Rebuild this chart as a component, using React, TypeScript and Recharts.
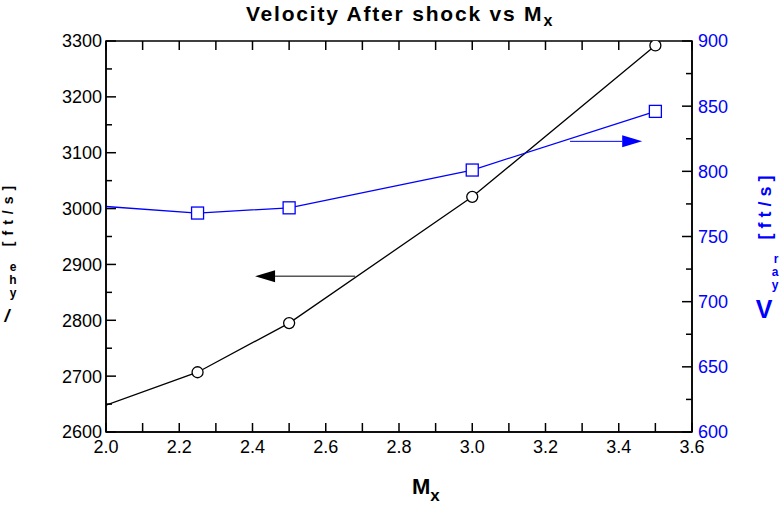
import React from "react";
import { LineChart, Line, XAxis, YAxis, ReferenceLine, ReferenceArea } from "recharts";

const mx = [2.0, 2.25, 2.5, 3.0, 3.5];
const velocityX = [2648, 2707, 2795, 3021, 3292];
const velocityY = [773, 768, 772, 801, 846];

const xTicks = [2.0, 2.2, 2.4, 2.6, 2.8, 3.0, 3.2, 3.4, 3.6];
const xMinorTicks = [2.1, 2.3, 2.5, 2.7, 2.9, 3.1, 3.3, 3.5];
const leftTicks = [2600, 2700, 2800, 2900, 3000, 3100, 3200, 3300];
const leftMinorTicks = [2650, 2750, 2850, 2950, 3050, 3150, 3250];
const rightTicks = [600, 650, 700, 750, 800, 850, 900];
const rightMinorTicks = [625, 675, 725, 775, 825, 875];

const FONT = "'Liberation Sans', Arial, sans-serif";
const BLUE = "#0000ff";

const data = mx.map((m, i) => ({ mx: m, vx: velocityX[i], vy: velocityY[i] }));

// short inward tick marks drawn from a full reference line
const xTickShape = (len: number) => (p: any) => {
  const top = Math.min(p.y1, p.y2);
  const bot = Math.max(p.y1, p.y2);
  return (
    <g>
      <line x1={p.x1} x2={p.x1} y1={bot} y2={bot - len} stroke="#000" strokeWidth={1.5} />
      <line x1={p.x1} x2={p.x1} y1={top} y2={top + len} stroke="#000" strokeWidth={1.5} />
    </g>
  );
};

const yTickShape = (len: number, side: "left" | "right") => (p: any) => {
  const x = side === "left" ? Math.min(p.x1, p.x2) : Math.max(p.x1, p.x2);
  const dir = side === "left" ? 1 : -1;
  return <line x1={x} x2={x + dir * len} y1={p.y1} y2={p.y1} stroke="#000" strokeWidth={1.5} />;
};

const arrowShape = (color: string) => (p: any) => {
  const dir = p.x2 > p.x1 ? 1 : -1;
  const head = 20;
  const bx = p.x2 - dir * head;
  return (
    <g>
      <line x1={p.x1} y1={p.y1} x2={bx} y2={p.y2} stroke={color} strokeWidth={1} />
      <polygon points={`${p.x2},${p.y2} ${bx},${p.y2 - 6} ${bx},${p.y2 + 6}`} fill={color} />
    </g>
  );
};

const CircleDot = (props: any) => {
  const { cx, cy, index } = props;
  if (index === 0) return <g key={`c-${index}`} />;
  return <circle key={`c-${index}`} cx={cx} cy={cy} r={5.5} fill="#fff" stroke="#000" strokeWidth={1.3} />;
};

const SquareDot = (props: any) => {
  const { cx, cy, index } = props;
  if (index === 0) return <g key={`s-${index}`} />;
  return (
    <rect key={`s-${index}`} x={cx - 6} y={cy - 6} width={12} height={12} fill="#fff" stroke={BLUE} strokeWidth={1.3} />
  );
};

export default function App() {
  return (
    <div style={{ position: "absolute", left: 0, top: 0, width: 780, height: 510, background: "#fff" }}>
      <LineChart
        width={780}
        height={510}
        data={data}
        margin={{ top: 41, right: 28, bottom: 38, left: 46 }}
      >
        <XAxis
          dataKey="mx"
          type="number"
          domain={[2, 3.6]}
          ticks={xTicks}
          allowDataOverflow
          tickFormatter={(v: number) => v.toFixed(1)}
          tickLine={false}
          tickSize={0}
          tickMargin={8}
          height={40}
          axisLine={{ stroke: "#000", strokeWidth: 1.5 }}
          tick={{ fill: "#000", fontSize: 18, fontFamily: FONT }}
        />
        <YAxis
          yAxisId="left"
          domain={[2600, 3300]}
          ticks={leftTicks}
          allowDataOverflow
          tickLine={false}
          tickSize={0}
          tickMargin={4}
          width={60}
          axisLine={{ stroke: "#000", strokeWidth: 1.5 }}
          tick={{ fill: "#000", fontSize: 18, fontFamily: FONT }}
        />
        <YAxis
          yAxisId="right"
          orientation="right"
          domain={[600, 900]}
          ticks={rightTicks}
          allowDataOverflow
          tickLine={false}
          tickSize={0}
          tickMargin={6}
          width={60}
          axisLine={{ stroke: "#000", strokeWidth: 1.5 }}
          tick={{ fill: BLUE, fontSize: 18, fontFamily: FONT, textAnchor: "start" }}
        />
        <ReferenceArea
          yAxisId="left"
          x1={2}
          x2={3.6}
          y1={2600}
          y2={3300}
          fill="none"
          stroke="#000"
          strokeWidth={1.5}
          fillOpacity={0}
        />
        {xTicks.map((v) => (
          <ReferenceLine key={`xt-${v}`} yAxisId="left" x={v} shape={xTickShape(9)} />
        ))}
        {xMinorTicks.map((v) => (
          <ReferenceLine key={`xm-${v}`} yAxisId="left" x={v} shape={xTickShape(9)} />
        ))}
        {leftTicks.map((v) => (
          <ReferenceLine key={`lt-${v}`} yAxisId="left" y={v} shape={yTickShape(10, "left")} />
        ))}
        {leftMinorTicks.map((v) => (
          <ReferenceLine key={`lm-${v}`} yAxisId="left" y={v} shape={yTickShape(6, "left")} />
        ))}
        {rightTicks.map((v) => (
          <ReferenceLine key={`rt-${v}`} yAxisId="right" y={v} shape={yTickShape(10, "right")} />
        ))}
        {rightMinorTicks.map((v) => (
          <ReferenceLine key={`rm-${v}`} yAxisId="right" y={v} shape={yTickShape(6, "right")} />
        ))}
        <ReferenceLine
          yAxisId="left"
          segment={[
            { x: 2.68, y: 2879 },
            { x: 2.407, y: 2879 },
          ]}
          shape={arrowShape("#000")}
        />
        <ReferenceLine
          yAxisId="right"
          segment={[
            { x: 3.267, y: 823 },
            { x: 3.464, y: 823 },
          ]}
          shape={arrowShape(BLUE)}
        />
        <Line
          yAxisId="left"
          dataKey="vx"
          stroke="#000"
          strokeWidth={1.3}
          dot={CircleDot}
          activeDot={false}
          isAnimationActive={false}
        />
        <Line
          yAxisId="right"
          dataKey="vy"
          stroke={BLUE}
          strokeWidth={1.3}
          dot={SquareDot}
          activeDot={false}
          isAnimationActive={false}
        />
      </LineChart>
      <svg
        width={780}
        height={510}
        style={{ position: "absolute", left: 0, top: 0, pointerEvents: "none" }}
        fontFamily={FONT}
      >
        <text x={400} y={21} textAnchor="middle" fontSize={21} fontWeight="bold" letterSpacing={1.8} fill="#000">
          Velocity After shock vs M<tspan fontSize={16} dy={5}>x</tspan>
        </text>
        <text x={412} y={494} fontSize={22} fontWeight="bold" fill="#000">
          M<tspan fontSize={17} dy={7}>x</tspan>
        </text>
        <text
          x={8}
          y={213}
          transform="rotate(-90 8 213)"
          textAnchor="middle"
          dominantBaseline="central"
          fontSize={14}
          fontWeight="bold"
          letterSpacing={6}
          fill="#000"
        >
          [ft/s]
        </text>
        <text x={13} y={271} textAnchor="middle" fontSize={12} fontWeight="bold" fill="#000">e</text>
        <text x={13} y={284} textAnchor="middle" fontSize={12} fontWeight="bold" fill="#000">h</text>
        <text x={13} y={297} textAnchor="middle" fontSize={12} fontWeight="bold" fill="#000">y</text>
        <text x={7} y={322} textAnchor="middle" fontSize={18} fontWeight="bold" fontStyle="italic" fill="#000">/</text>
        <text
          x={765}
          y={205}
          transform="rotate(-90 765 205)"
          textAnchor="middle"
          dominantBaseline="central"
          fontSize={18}
          fontWeight="bold"
          letterSpacing={5}
          fill={BLUE}
        >
          [ft/s]
        </text>
        <text x={776} y={263} textAnchor="middle" fontSize={12} fontWeight="bold" fill={BLUE}>r</text>
        <text x={775} y={276} textAnchor="middle" fontSize={12} fontWeight="bold" fill={BLUE}>a</text>
        <text x={775} y={289} textAnchor="middle" fontSize={12} fontWeight="bold" fill={BLUE}>y</text>
        <text x={764} y={318} textAnchor="middle" fontSize={25} fontWeight="bold" fill={BLUE}>V</text>
      </svg>
    </div>
  );
}
